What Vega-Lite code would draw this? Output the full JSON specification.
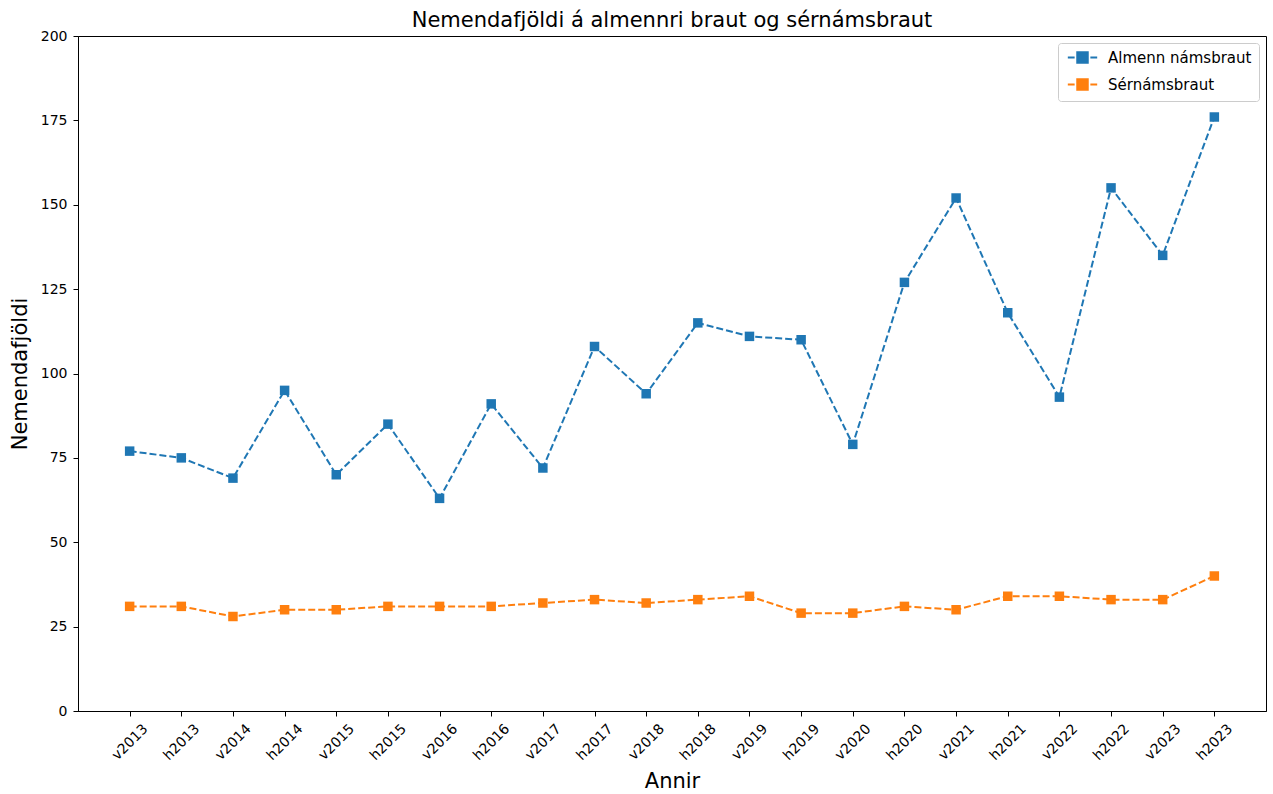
{
  "$schema": "https://vega.github.io/schema/vega-lite/v6.json",
  "width": 1188,
  "height": 675,
  "autosize": {"type": "none"},
  "padding": {"left": 78, "top": 36, "right": 7, "bottom": 83},
  "background": "white",
  "config": {
    "font": "DejaVu Sans",
    "view": {"stroke": "black", "strokeWidth": 1},
    "axis": {"grid": false, "domainColor": "black", "tickColor": "black", "labelColor": "black", "titleColor": "black", "labelFontSize": 14, "titleFontSize": 21, "titleFontWeight": "normal", "tickSize": 5, "labelPadding": 6}
  },
  "title": {"text": "Nemendafjöldi á almennri braut og sérnámsbraut", "fontSize": 21, "fontWeight": "normal", "font": "DejaVu Sans", "offset": -2, "color": "black"},
  "data": {"values": [
    {"period": "v2013", "series": "Almenn námsbraut", "value": 77},
    {"period": "h2013", "series": "Almenn námsbraut", "value": 75},
    {"period": "v2014", "series": "Almenn námsbraut", "value": 69},
    {"period": "h2014", "series": "Almenn námsbraut", "value": 95},
    {"period": "v2015", "series": "Almenn námsbraut", "value": 70},
    {"period": "h2015", "series": "Almenn námsbraut", "value": 85},
    {"period": "v2016", "series": "Almenn námsbraut", "value": 63},
    {"period": "h2016", "series": "Almenn námsbraut", "value": 91},
    {"period": "v2017", "series": "Almenn námsbraut", "value": 72},
    {"period": "h2017", "series": "Almenn námsbraut", "value": 108},
    {"period": "v2018", "series": "Almenn námsbraut", "value": 94},
    {"period": "h2018", "series": "Almenn námsbraut", "value": 115},
    {"period": "v2019", "series": "Almenn námsbraut", "value": 111},
    {"period": "h2019", "series": "Almenn námsbraut", "value": 110},
    {"period": "v2020", "series": "Almenn námsbraut", "value": 79},
    {"period": "h2020", "series": "Almenn námsbraut", "value": 127},
    {"period": "v2021", "series": "Almenn námsbraut", "value": 152},
    {"period": "h2021", "series": "Almenn námsbraut", "value": 118},
    {"period": "v2022", "series": "Almenn námsbraut", "value": 93},
    {"period": "h2022", "series": "Almenn námsbraut", "value": 155},
    {"period": "v2023", "series": "Almenn námsbraut", "value": 135},
    {"period": "h2023", "series": "Almenn námsbraut", "value": 176},
    {"period": "v2013", "series": "Sérnámsbraut", "value": 31},
    {"period": "h2013", "series": "Sérnámsbraut", "value": 31},
    {"period": "v2014", "series": "Sérnámsbraut", "value": 28},
    {"period": "h2014", "series": "Sérnámsbraut", "value": 30},
    {"period": "v2015", "series": "Sérnámsbraut", "value": 30},
    {"period": "h2015", "series": "Sérnámsbraut", "value": 31},
    {"period": "v2016", "series": "Sérnámsbraut", "value": 31},
    {"period": "h2016", "series": "Sérnámsbraut", "value": 31},
    {"period": "v2017", "series": "Sérnámsbraut", "value": 32},
    {"period": "h2017", "series": "Sérnámsbraut", "value": 33},
    {"period": "v2018", "series": "Sérnámsbraut", "value": 32},
    {"period": "h2018", "series": "Sérnámsbraut", "value": 33},
    {"period": "v2019", "series": "Sérnámsbraut", "value": 34},
    {"period": "h2019", "series": "Sérnámsbraut", "value": 29},
    {"period": "v2020", "series": "Sérnámsbraut", "value": 29},
    {"period": "h2020", "series": "Sérnámsbraut", "value": 31},
    {"period": "v2021", "series": "Sérnámsbraut", "value": 30},
    {"period": "h2021", "series": "Sérnámsbraut", "value": 34},
    {"period": "v2022", "series": "Sérnámsbraut", "value": 34},
    {"period": "h2022", "series": "Sérnámsbraut", "value": 33},
    {"period": "v2023", "series": "Sérnámsbraut", "value": 33},
    {"period": "h2023", "series": "Sérnámsbraut", "value": 40}
  ]},
  "mark": {"type": "line", "strokeWidth": 2, "strokeDash": [7, 3], "point": {"filled": true, "shape": "square", "size": 90, "opacity": 1}},
  "encoding": {
    "x": {"field": "period", "type": "ordinal", "sort": null, "scale": {"type": "point", "padding": 1.02},
      "axis": {"title": "Annir", "labelAngle": -45, "labelAlign": "center", "labelBaseline": "middle", "labelPadding": 26, "titlePadding": 8}},
    "y": {"field": "value", "type": "quantitative", "scale": {"domain": [0, 200], "nice": false},
      "axis": {"title": "Nemendafjöldi", "values": [0, 25, 50, 75, 100, 125, 150, 175, 200], "titlePadding": 10}},
    "color": {"field": "series", "type": "nominal", "sort": null,
      "scale": {"domain": ["Almenn námsbraut", "Sérnámsbraut"], "range": ["#1f77b4", "#ff7f0e"]},
      "legend": {"title": null, "orient": "top-right", "offset": 7, "labelFontSize": 15, "labelColor": "black", "fillColor": "white", "strokeColor": "#cccccc", "padding": 7, "cornerRadius": 3,
        "symbolType": "M-2.8,0H-1.5M1.5,0H2.8M-1,-1H1V1H-1Z", "symbolSize": 110, "symbolStrokeWidth": 2, "symbolOffset": 10, "labelOffset": 18, "rowPadding": 8}}
  }
}
